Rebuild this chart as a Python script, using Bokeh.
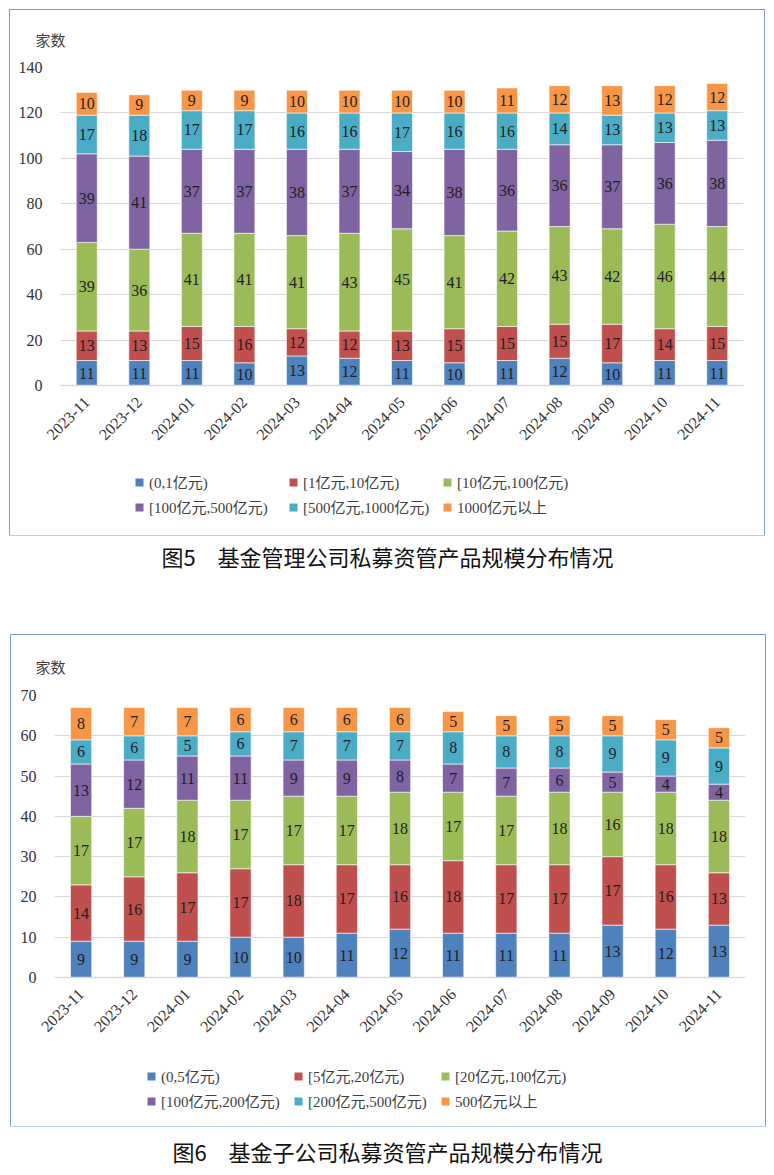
from bokeh.plotting import figure
from bokeh.models import (ColumnDataSource, Range1d, FixedTicker, Legend, LegendItem,
                          Label, Spacer)
from bokeh.layouts import column, row
from bokeh.embed import file_html
from bokeh.resources import INLINE
from bokeh.core.properties import value
import math

months = ["2023-11", "2023-12", "2024-01", "2024-02", "2024-03", "2024-04", "2024-05",
          "2024-06", "2024-07", "2024-08", "2024-09", "2024-10", "2024-11"]

# ---- Chart 1: 基金管理公司 ----
c1_labels = ["(0,1亿元)", "[1亿元,10亿元)", "[10亿元,100亿元)",
             "[100亿元,500亿元)", "[500亿元,1000亿元)", "1000亿元以上"]
c1_a = [11, 11, 11, 10, 13, 12, 11, 10, 11, 12, 10, 11, 11]
c1_b = [13, 13, 15, 16, 12, 12, 13, 15, 15, 15, 17, 14, 15]
c1_c = [39, 36, 41, 41, 41, 43, 45, 41, 42, 43, 42, 46, 44]
c1_d = [39, 41, 37, 37, 38, 37, 34, 38, 36, 36, 37, 36, 38]
c1_e = [17, 18, 17, 17, 16, 16, 17, 16, 16, 14, 13, 13, 13]
c1_f = [10, 9, 9, 9, 10, 10, 10, 10, 11, 12, 13, 12, 12]
c1_ticks = [0, 20, 40, 60, 80, 100, 120, 140]
c1_caption = "图5\u3000基金管理公司私募资管产品规模分布情况"

# ---- Chart 2: 基金子公司 ----
c2_labels = ["(0,5亿元)", "[5亿元,20亿元)", "[20亿元,100亿元)",
             "[100亿元,200亿元)", "[200亿元,500亿元)", "500亿元以上"]
c2_a = [9, 9, 9, 10, 10, 11, 12, 11, 11, 11, 13, 12, 13]
c2_b = [14, 16, 17, 17, 18, 17, 16, 18, 17, 17, 17, 16, 13]
c2_c = [17, 17, 18, 17, 17, 17, 18, 17, 17, 18, 16, 18, 18]
c2_d = [13, 12, 11, 11, 9, 9, 8, 7, 7, 6, 5, 4, 4]
c2_e = [6, 6, 5, 6, 7, 7, 7, 8, 8, 8, 9, 9, 9]
c2_f = [8, 7, 7, 6, 6, 6, 6, 5, 5, 5, 5, 5, 5]
c2_ticks = [0, 10, 20, 30, 40, 50, 60, 70]
c2_caption = "图6\u3000基金子公司私募资管产品规模分布情况"

colors = ["#4F81BD", "#C0504D", "#9BBB59", "#8064A2", "#4BACC6", "#F79646"]
y_unit = "家数"

FONT = "'Liberation Serif', 'Noto Sans CJK SC', serif"
CJK = "'Noto Sans CJK SC', 'Liberation Serif', sans-serif"
BOX_COLOR = "#7b9bd1"


def series_source(series):
    keys = ["s%d" % i for i in range(len(series))]
    data = {"month": months}
    for k, s in zip(keys, series):
        data[k] = s
    return keys, ColumnDataSource(data)


def make_chart(series, ticks, W, H, fl, fr, ft, fb, unit_offset, unit_standoff):
    keys, src = series_source(series)

    p = figure(x_range=months, y_range=Range1d(ticks[0], ticks[-1]),
               width=W, height=H, output_backend="svg", toolbar_location=None,
               min_border_left=fl, min_border_right=fr, min_border_top=ft,
               min_border_bottom=fb)
    p.outline_line_color = None
    p.background_fill_color = "white"
    p.border_fill_color = "white"

    # unit label above the axis
    p.title.text = y_unit
    p.title.align = "left"
    p.title.vertical_align = "middle"
    p.title.offset = unit_offset
    p.title.standoff = unit_standoff
    p.title.text_font = CJK
    p.title.text_font_size = "15px"
    p.title.text_font_style = "normal"
    p.title.text_color = "#404040"

    p.vbar_stack(keys, x="month", width=0.4, color=colors, source=src,
                 line_color="white", line_width=0.6)

    # data labels at centre of each segment
    tx, ty, tt = [], [], []
    bottoms = [0] * len(months)
    for s in series:
        for i, v in enumerate(s):
            tx.append(months[i])
            ty.append(bottoms[i] + v / 2.0)
            tt.append(str(v))
            bottoms[i] += v
    tsrc = ColumnDataSource(dict(x=tx, y=ty, t=tt))
    p.text(x="x", y="y", text="t", source=tsrc, text_align="center",
           text_baseline="middle", text_font=value(FONT), text_font_size="16px",
           text_color="#1e1e1e")

    # axes
    p.yaxis.ticker = FixedTicker(ticks=ticks)
    p.yaxis.axis_line_color = None
    p.yaxis.major_tick_line_color = None
    p.yaxis.minor_tick_line_color = None
    p.yaxis.major_label_text_font = FONT
    p.yaxis.major_label_text_font_size = "16px"
    p.yaxis.major_label_text_color = "#333333"
    p.yaxis.major_label_standoff = 12

    p.xaxis.axis_line_color = "#d9d9d9"
    p.xaxis.axis_line_width = 1.5
    p.xaxis.major_tick_line_color = None
    p.xaxis.minor_tick_line_color = None
    p.xaxis.major_label_orientation = math.pi / 4
    p.xaxis.major_label_text_font = FONT
    p.xaxis.major_label_text_font_size = "16px"
    p.xaxis.major_label_text_color = "#333333"
    p.xaxis.major_label_standoff = 8

    p.xgrid.grid_line_color = None
    p.ygrid.ticker = FixedTicker(ticks=ticks)
    p.ygrid.grid_line_color = "#d9d9d9"
    p.ygrid.grid_line_width = 1.2
    return p


def make_legend(series, labels, W, H, loc, label_w):
    # legend panel: same stacked renderers with zero width, so only the swatches show
    keys, src = series_source(series)
    lf = figure(width=W, height=H, x_range=months, y_range=Range1d(-2000, -1000),
                output_backend="svg", toolbar_location=None, min_border=0)
    lf.axis.visible = False
    lf.grid.visible = False
    lf.outline_line_color = None
    rs = lf.vbar_stack(keys, x="month", width=0, color=colors, source=src,
                       line_color=None)
    items = [LegendItem(label=lab, renderers=[r]) for lab, r in zip(labels, rs)]
    leg = Legend(items=items, ncols=3, orientation="horizontal", location=loc,
                 label_text_font=FONT, label_text_font_size="15px",
                 label_text_color="#404040", glyph_width=10, glyph_height=10,
                 label_standoff=5, spacing=4, padding=0, margin=0,
                 label_width=label_w, label_height=16,
                 border_line_color=None, background_fill_alpha=0)
    lf.add_layout(leg, "center")
    return lf


def make_caption(text, W, H):
    c = figure(width=W, height=H, x_range=Range1d(0, W), y_range=Range1d(0, H),
               output_backend="svg", toolbar_location=None, min_border=0)
    c.axis.visible = False
    c.grid.visible = False
    c.outline_line_color = None
    c.add_layout(Label(x=W / 2.0, y=H / 2.0, text=text, text_font=CJK,
                       text_font_size="22px", text_color="#111111",
                       text_baseline="middle", text_align="center"))
    return c


BOX_STYLE = {"outline": "1.5px solid " + BOX_COLOR}

s1 = [c1_a, c1_b, c1_c, c1_d, c1_e, c1_f]
s2 = [c2_a, c2_b, c2_c, c2_d, c2_e, c2_f]

p1 = make_chart(s1, c1_ticks, W=754, H=445, fl=50, fr=21, ft=57, fb=70,
                unit_offset=-25, unit_standoff=33)
l1 = make_legend(s1, c1_labels, 754, 80, (74, 18), 135)
block1 = column(p1, l1, spacing=0, styles=BOX_STYLE)

p2 = make_chart(s2, c2_ticks, W=754, H=411, fl=43, fr=20, ft=60, fb=69,
                unit_offset=-19, unit_standoff=36)
l2 = make_legend(s2, c2_labels, 754, 80, (92, 15), 128)
block2 = column(p2, l2, spacing=0, styles=BOX_STYLE)

cap1 = make_caption(c1_caption, 774, 40)
cap2 = make_caption(c2_caption, 774, 48)

layout = column(
    Spacer(width=774, height=10),
    row(Spacer(width=10, height=525), block1, spacing=0),
    cap1,
    Spacer(width=774, height=60),
    row(Spacer(width=11, height=491), block2, spacing=0),
    cap2,
    spacing=0,
)
open("out.html", "w").write(file_html(layout, INLINE))
